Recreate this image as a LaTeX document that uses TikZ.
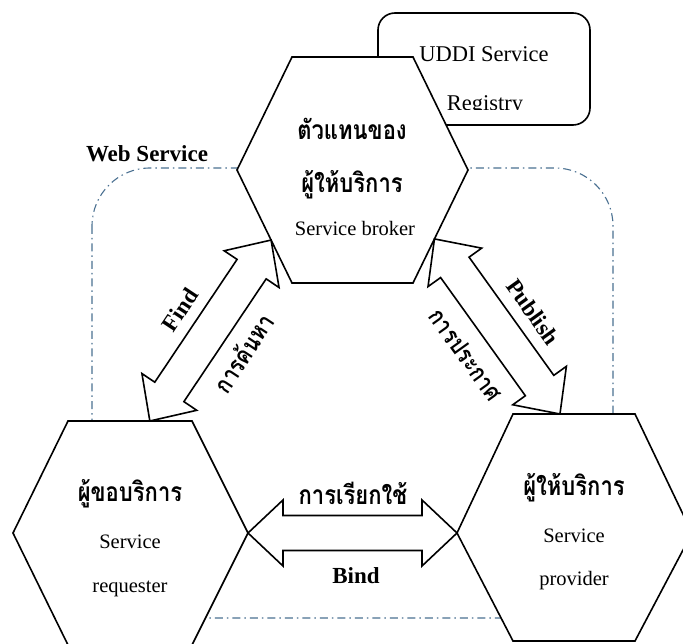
\documentclass[tikz,border=0pt]{standalone}
\usepackage{fontspec}
\setmainfont{Liberation Serif}
\newfontfamily\thaifont[Script=Thai]{Loma}
\usetikzlibrary{calc}

\definecolor{frameblue}{RGB}{74,112,145}

% block arrow dimensions
\def\headlen{35pt}
\def\headhw{33pt}
\def\shafthw{17.5pt}

% double-headed outlined block arrow between two points
\newcommand\dblblock[2]{%
  \draw[blockarrow] (#1)
    -- ($(#1)!\headlen!(#2)!\headhw!90:(#2)$)
    -- ($(#1)!\headlen!(#2)!\shafthw!90:(#2)$)
    -- ($(#2)!\headlen!(#1)!\shafthw!-90:(#1)$)
    -- ($(#2)!\headlen!(#1)!\headhw!-90:(#1)$)
    -- (#2)
    -- ($(#2)!\headlen!(#1)!\headhw!90:(#1)$)
    -- ($(#2)!\headlen!(#1)!\shafthw!90:(#1)$)
    -- ($(#1)!\headlen!(#2)!\shafthw!-90:(#2)$)
    -- ($(#1)!\headlen!(#2)!\headhw!-90:(#2)$)
    -- cycle;}

\tikzset{
  hexa/.style={draw=black, line width=1.6pt, fill=white, line join=miter},
  blockarrow/.style={draw=black, line width=1.6pt, fill=white, line join=miter},
  regbox/.style={draw=black, line width=1.6pt, rounded corners=17pt, fill=white,
    minimum width=212pt, minimum height=112pt, inner sep=0pt},
  webframe/.style={draw=frameblue, line width=1.1pt,
    dash pattern=on 8pt off 4pt on 1.5pt off 4pt, rounded corners=58pt},
  lat/.style={font=\fontsize{20.5}{22}\selectfont, inner sep=0pt},
  uddi/.style={font=\fontsize{22.5}{24}\selectfont, inner sep=0pt},
  latb/.style={font=\fontsize{23}{25}\selectfont\bfseries, inner sep=0pt},
  thb/.style={font=\thaifont\fontsize{22}{26}\selectfont\bfseries, inner sep=0pt, yscale=1.2},
  thr/.style={font=\thaifont\fontsize{20.5}{24}\selectfont\bfseries, inner sep=0pt, yscale=1.2},
}

\begin{document}
\begin{tikzpicture}[x=1pt,y=-1pt]
\useasboundingbox (0,0) rectangle (683,644);

% Web Service boundary
\draw[webframe] (92,168) rectangle (613,618);

% UDDI registry box with its text
\node[regbox] (uddi) at (484,69) {};
\node[uddi, anchor=base] (uddi1) at (484,62) {UDDI Service};
\begin{scope}
  \clip (380,15) rectangle (588,110);
  \node[uddi, anchor=base] (uddi2) at (485,111) {Registry};
\end{scope}

% hexagon corners
\coordinate (br-l)  at (237,170);
\coordinate (br-tl) at (292,57);
\coordinate (br-tr) at (413,57);
\coordinate (br-r)  at (468,170);
\coordinate (br-br) at (413,283);
\coordinate (br-bl) at (292,283);

\coordinate (rq-l)  at (13,533);
\coordinate (rq-tl) at (68,421);
\coordinate (rq-tr) at (192,421);
\coordinate (rq-r)  at (248,533);
\coordinate (rq-br) at (192,645);
\coordinate (rq-bl) at (68,645);

\coordinate (pv-l)  at (457,533);
\coordinate (pv-tl) at (513,414);
\coordinate (pv-tr) at (635,414);
\coordinate (pv-r)  at (692,533);
\coordinate (pv-br) at (635,641);
\coordinate (pv-bl) at (513,641);

% hexagons
\draw[hexa] (br-l) -- (br-tl) -- (br-tr) -- (br-r) -- (br-br) -- (br-bl) -- cycle;
\draw[hexa] (rq-l) -- (rq-tl) -- (rq-tr) -- (rq-r) -- (rq-br) -- (rq-bl) -- cycle;
\draw[hexa] (pv-l) -- (pv-tl) -- (pv-tr) -- (pv-r) -- (pv-br) -- (pv-bl) -- cycle;

% arrow ends on the hexagon borders
\coordinate (findtop) at ($(br-l)!0.62!(br-bl)$);
\coordinate (findbot) at ($(rq-tl)!0.66!(rq-tr)$);
\coordinate (pubtop)  at ($(br-r)!0.61!(br-br)$);
\coordinate (pubbot)  at ($(pv-tl)!0.385!(pv-tr)$);

% block arrows
\dblblock{findtop}{findbot}
\dblblock{pubtop}{pubbot}
\dblblock{rq-r}{pv-l}

% hexagon texts
\node[thb, anchor=base] (brth1) at (352,140) {ตัวแทนของ};
\node[thb, anchor=base] (brth2) at (352,193) {ผู้ให้บริการ};
\node[lat, anchor=base] (bren)  at (355,236) {Service broker};

\node[thb, anchor=base] (rqth)  at (130,501) {ผู้ขอบริการ};
\node[lat, anchor=base] (rqen1) at (130,548) {Service};
\node[lat, anchor=base] (rqen2) at (130,592) {requester};

\node[thb, anchor=base] (pvth)  at (574,495) {ผู้ให้บริการ};
\node[lat, anchor=base] (pven1) at (574,542) {Service};
\node[lat, anchor=base] (pven2) at (574,585) {provider};

% labels
\node[latb, anchor=base] (web) at (147,162) {Web Service};
\node[latb, rotate=56.5] (findlbl) at (180,310) {Find};
\node[rotate=56.5, thr] (findth) at (243,353) {การค้นหา};
\node[latb, rotate=-54.3] (publbl) at (533,312) {Publish};
\node[rotate=-54.3, thr] (pubth) at (466,355) {การประกาศ};
\node[thb, anchor=base] (bindth) at (353,504) {การเรียกใช้};
\node[latb, anchor=base] (bindlbl) at (356,583) {Bind};
\end{tikzpicture}
\end{document}
